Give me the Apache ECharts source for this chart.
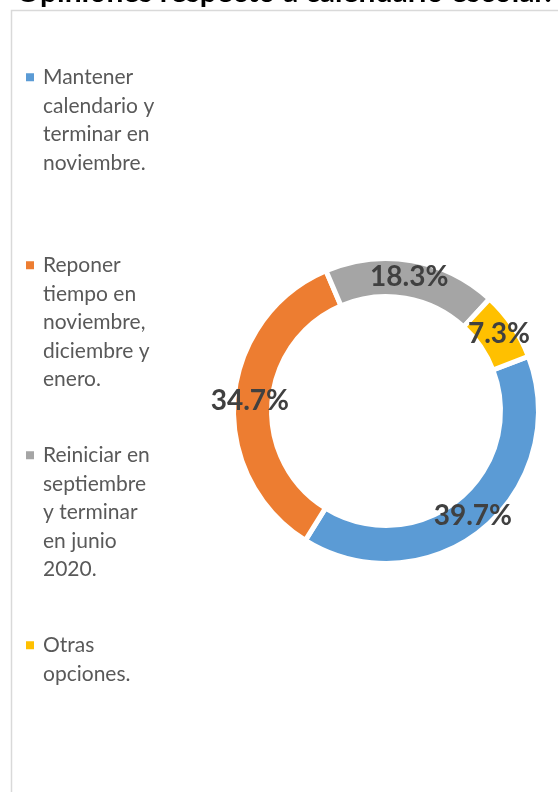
<!DOCTYPE html>
<html>
<head>
<meta charset="utf-8">
<script src="https://cdn.jsdelivr.net/npm/echarts@6/dist/echarts.min.js"></script>
<style>
html,body{margin:0;padding:0;background:#fff;}
#chart{width:558px;height:792px;}
</style>
</head>
<body>
<div id="chart"></div>
<script>
var titleText = 'Opiniones respecto a calendario escolar.';
var categories = [
  'Mantener calendario y terminar en noviembre.',
  'Reponer tiempo en noviembre, diciembre y enero.',
  'Reiniciar en septiembre y terminar en junio 2020.',
  'Otras opciones.'
];
var legendLines = [
  ['Mantener', 'calendario y', 'terminar en', 'noviembre.'],
  ['Reponer', 'tiempo en', 'noviembre,', 'diciembre y', 'enero.'],
  ['Reiniciar en', 'septiembre', 'y terminar', 'en junio', '2020.'],
  ['Otras', 'opciones.']
];
var values = [39.7, 34.7, 18.3, 7.3];
var colors = ['#5B9BD5', '#ED7D31', '#A5A5A5', '#FFC000'];
var legendTops = [63, 251, 441, 631];

var chart = echarts.init(document.getElementById('chart'));

var rich = {
  t: {fontFamily: 'Lato', fontSize: 21, color: '#595959', lineHeight: 28.5},
  g: {width: 9},
  i: {width: 17}
};
colors.forEach(function (c, k) {
  rich['sq' + k] = {width: 8, height: 8, backgroundColor: c};
});

var legends = categories.map(function (name, k) {
  return {
    data: [name],
    left: 20,
    top: legendTops[k],
    orient: 'vertical',
    padding: 0,
    itemWidth: 0,
    itemHeight: 0,
    itemStyle: {opacity: 0},
    selectedMode: false,
    formatter: function () {
      return legendLines[k].map(function (line, j) {
        return (j === 0 ? '{sq' + k + '|}{g|}' : '{i|}') + '{t|' + line + '}';
      }).join('\n');
    },
    textStyle: {rich: rich, lineHeight: 28.5}
  };
});

chart.setOption({
  animation: false,
  backgroundColor: '#fff',
  color: colors,
  title: {
    text: titleText,
    left: 16,
    top: -23,
    padding: 0,
    textStyle: {fontFamily: 'Lato', fontWeight: 'bold', fontSize: 30, color: '#000', lineHeight: 30}
  },
  graphic: [{
    type: 'rect',
    shape: {x: 11.5, y: 10.5, width: 700, height: 900},
    style: {fill: 'none', stroke: '#d9d9d9', lineWidth: 1.5},
    silent: true,
    z: -1
  }],
  legend: legends,
  series: [{
    type: 'pie',
    center: [386, 411],
    radius: [114.5, 152.5],
    startAngle: 21,
    clockwise: true,
    avoidLabelOverlap: false,
    emphasis: {disabled: true},
    itemStyle: {borderColor: '#fff', borderWidth: 5},
    label: {
      show: true,
      position: 'inside',
      formatter: function (p) { return p.value.toFixed(1) + '%'; },
      fontFamily: 'Lato',
      fontWeight: 'bold',
      fontSize: 28,
      color: '#404040'
    },
    labelLine: {show: false},
    data: categories.map(function (n, k) { return {name: n, value: values[k]}; })
  }]
});
</script>
</body>
</html>
